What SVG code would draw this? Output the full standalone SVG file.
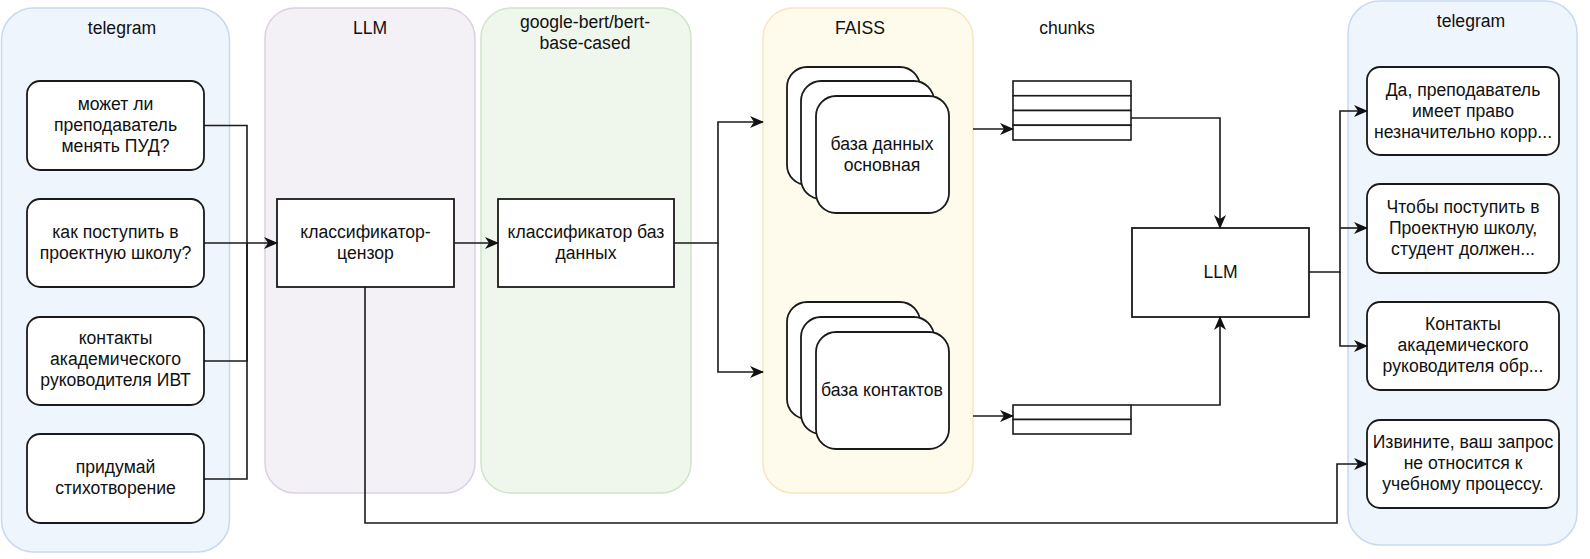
<svg xmlns="http://www.w3.org/2000/svg" width="1590" height="559" viewBox="0 0 1590 559">
<defs>
<style>
text{font-family:"Liberation Sans",Arial,sans-serif;font-size:17.6px;fill:#111;text-anchor:middle}
.tg{fill:#eff5fd;stroke:#c8d9f0;stroke-width:1.5}
.llm{fill:#f3f0f6;stroke:#ddcfe4;stroke-width:1.5}
.bert{fill:#eff7ed;stroke:#cfe4ca;stroke-width:1.5}
.faiss{fill:#fefaec;stroke:#f5e6bf;stroke-width:1.5}
.box{fill:#fff;stroke:#1a1a1a;stroke-width:1.8}
.tbl{fill:#fff;stroke:#1a1a1a;stroke-width:1.6}
.conn path{fill:none;stroke:#1a1a1a;stroke-width:1.6}
.arr{marker-end:url(#ah)}
</style>
<marker id="ah" markerUnits="userSpaceOnUse" markerWidth="14" markerHeight="12" viewBox="0 0 14 12" refX="13" refY="6" orient="auto">
<path d="M0,0 L14,6 L0,12 L4,6 z" fill="#111"/>
</marker>
</defs>
<rect width="1590" height="559" fill="#fff"/>

<g id="container-telegram-in">
<rect class="tg" x="1.5" y="8" width="228" height="544" rx="32"/>
<text x="122" y="34">telegram</text>
</g>
<g id="container-llm">
<rect class="llm" x="265" y="8" width="210" height="485" rx="30"/>
<text x="370" y="34">LLM</text>
</g>
<g id="container-bert">
<rect class="bert" x="481" y="8" width="210" height="485" rx="30"/>
<text x="585" y="28">google-bert/bert-</text>
<text x="585" y="49">base-cased</text>
</g>
<g id="container-faiss">
<rect class="faiss" x="763" y="8" width="210" height="485" rx="30"/>
<text x="860" y="34">FAISS</text>
</g>
<g id="container-telegram-out">
<rect class="tg" x="1348" y="1" width="229" height="544" rx="32"/>
<text x="1471" y="27">telegram</text>
</g>

<g id="q1"><rect class="box" x="27" y="81" width="177" height="89" rx="13"/>
<text x="115.5" y="110">может ли</text><text x="115.5" y="131">преподаватель</text><text x="115.5" y="152">менять ПУД?</text></g>
<g id="q2"><rect class="box" x="27" y="199" width="177" height="88" rx="13"/>
<text x="115.5" y="238">как поступить в</text><text x="115.5" y="259">проектную школу?</text></g>
<g id="q3"><rect class="box" x="27" y="317" width="177" height="88" rx="13"/>
<text x="115.5" y="344">контакты</text><text x="115.5" y="365">академического</text><text x="115.5" y="386">руководителя ИВТ</text></g>
<g id="q4"><rect class="box" x="27" y="434" width="177" height="89" rx="13"/>
<text x="115.5" y="473">придумай</text><text x="115.5" y="494">стихотворение</text></g>

<g id="censor"><rect class="box" x="277" y="199" width="177" height="88"/>
<text x="365.5" y="238">классификатор-</text><text x="365.5" y="259">цензор</text></g>
<g id="dbclassifier"><rect class="box" x="498" y="199" width="176" height="88"/>
<text x="586" y="238">классификатор баз</text><text x="586" y="259">данных</text></g>

<g id="db-main">
<rect class="box" x="787" y="67" width="133" height="118" rx="20"/>
<rect class="box" x="801" y="81" width="133" height="118" rx="20"/>
<rect class="box" x="816" y="96" width="133" height="117" rx="20"/>
<text x="882" y="150">база данных</text><text x="882" y="171">основная</text></g>
<g id="db-contacts">
<rect class="box" x="787" y="302" width="133" height="117" rx="20"/>
<rect class="box" x="801" y="317" width="133" height="117" rx="20"/>
<rect class="box" x="816" y="332" width="133" height="117" rx="20"/>
<text x="882" y="396">база контактов</text></g>

<g id="chunks-label"><text x="1067" y="34">chunks</text></g>
<g id="chunks-main">
<rect class="tbl" x="1013" y="81" width="118" height="14.75"/>
<rect class="tbl" x="1013" y="95.75" width="118" height="14.75"/>
<rect class="tbl" x="1013" y="110.5" width="118" height="14.75"/>
<rect class="tbl" x="1013" y="125.25" width="118" height="14.75"/>
</g>
<g id="chunks-contacts">
<rect class="tbl" x="1013" y="405" width="118" height="14.5"/>
<rect class="tbl" x="1013" y="419.5" width="118" height="14.5"/>
</g>

<g id="llm-answer"><rect class="box" x="1132" y="228" width="177" height="89"/>
<text x="1220.5" y="278">LLM</text></g>

<g id="a1"><rect class="box" x="1367" y="67" width="192" height="88" rx="13"/>
<text x="1463" y="96">Да, преподаватель</text><text x="1463" y="117">имеет право</text><text x="1463" y="138">незначительно корр...</text></g>
<g id="a2"><rect class="box" x="1367" y="184" width="192" height="89" rx="13"/>
<text x="1463" y="213">Чтобы поступить в</text><text x="1463" y="234">Проектную школу,</text><text x="1463" y="255">студент должен...</text></g>
<g id="a3"><rect class="box" x="1367" y="302" width="192" height="88" rx="13"/>
<text x="1463" y="330">Контакты</text><text x="1463" y="351">академического</text><text x="1463" y="372">руководителя обр...</text></g>
<g id="a4"><rect class="box" x="1367" y="420" width="192" height="88" rx="13"/>
<text x="1463" y="448">Извините, ваш запрос</text><text x="1463" y="469">не относится к</text><text x="1463" y="490">учебному процессу.</text></g>

<g id="connectors" class="conn">
<path d="M204 125.5 H247 V243"/>
<path d="M204 361 H247 V243"/>
<path d="M204 479 H247 V243"/>
<path class="arr" d="M204 243 H277"/>
<path class="arr" d="M454 243 H498"/>
<path class="arr" d="M674 243 H718 V122 H763"/>
<path class="arr" d="M718 243 V372 H763"/>
<path class="arr" d="M973 129 H1013"/>
<path class="arr" d="M973 416 H1013"/>
<path class="arr" d="M1131 118 H1220 V228"/>
<path class="arr" d="M1131 405 H1220 V317"/>
<path class="arr" d="M1309 272 H1340 V111 H1367"/>
<path class="arr" d="M1340 228 H1367"/>
<path class="arr" d="M1340 272 V346 H1367"/>
<path class="arr" d="M365 287 V523 H1337 V464 H1367"/>
</g>
</svg>
